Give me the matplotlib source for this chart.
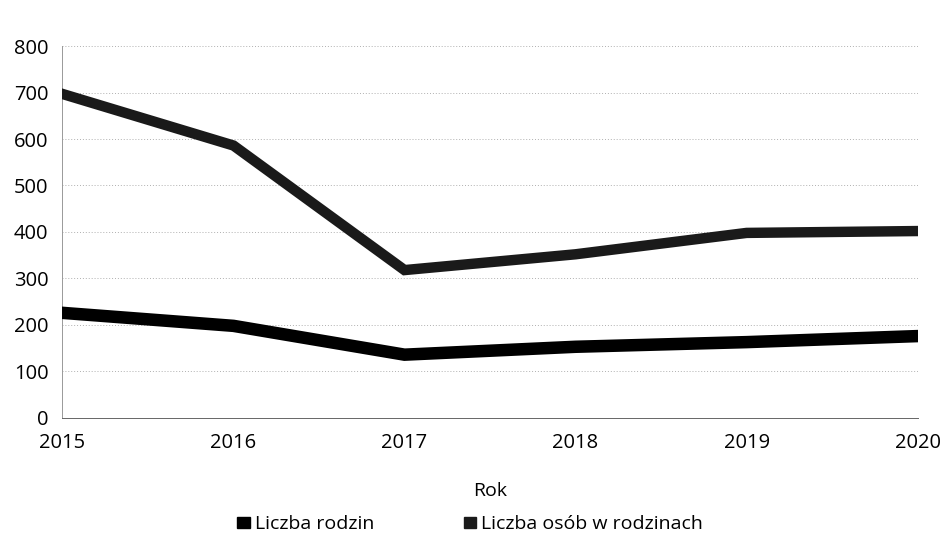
import matplotlib.pyplot as plt
from matplotlib.patches import Patch

plt.rcParams['font.family'] = ['Open Sans', 'DejaVu Sans']

# Data
years = [2015, 2016, 2017, 2018, 2019, 2020]
rodziny = [226, 198, 136, 153, 163, 176]
osoby = [697, 586, 318, 352, 398, 402]

fig = plt.figure(figsize=(9.46, 5.42), dpi=100)
ax = fig.add_axes([0.066, 0.229, 0.904, 0.686])

ax.plot(years, osoby, color='#1a1a1a', linewidth=7.5, solid_joinstyle='miter',
        label='Liczba osób w rodzinach', zorder=3)
ax.plot(years, rodziny, color='black', linewidth=9, solid_joinstyle='miter',
        label='Liczba rodzin', zorder=3)

ax.set_xlim(2015, 2020)
ax.set_ylim(0, 800)
ax.set_yticks(range(0, 801, 100))
ax.set_xticks(years)
ax.set_xticklabels([str(y) for y in years])

# grid and spines
ax.grid(axis='y', color='#b0b0b0', linestyle=(0, (1, 2)), linewidth=0.7)
for s in ['top', 'right']:
    ax.spines[s].set_visible(False)
ax.spines['left'].set_color('#999999')
ax.spines['left'].set_linestyle((0, (1, 1)))
ax.spines['left'].set_linewidth(0.7)
ax.spines['bottom'].set_color('#666666')
ax.spines['bottom'].set_linewidth(0.7)

ax.tick_params(axis='both', length=0, labelsize=14.5, colors='black')
ax.tick_params(axis='y', pad=10)
ax.tick_params(axis='x', pad=11)

ax.set_xlabel('Rok', fontsize=14, labelpad=21)

# legend: rodziny first
leg_handles = [Patch(color='black'), Patch(color='#1a1a1a')]
fig.legend(leg_handles, ['Liczba rodzin', 'Liczba osób w rodzinach'],
           loc='center', bbox_to_anchor=(0.497, 0.033), ncol=2, frameon=False,
           fontsize=14, handlelength=0.65, handleheight=0.5, columnspacing=4.6,
           handletextpad=0.25)

plt.savefig('out.png', dpi=100)
